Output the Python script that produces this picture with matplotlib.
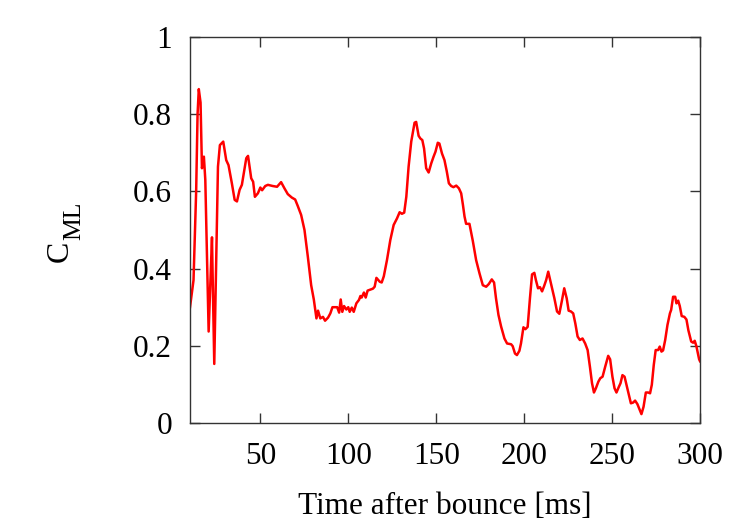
import matplotlib
matplotlib.use("Agg")
import matplotlib.pyplot as plt

plt.rcParams['font.family'] = ['Liberation Serif', 'DejaVu Serif']

time_ms = [10, 12, 13.5, 14.3, 15, 16, 16.8, 17.9, 18.7, 20.6, 22.5, 22.8, 23.8,
           25.9, 27, 28.9, 30.6, 31.9, 33.8, 35.4, 36.7, 38.2, 39.5, 42, 43, 44.8,
           45.9, 46.9, 48.6, 50, 51, 52.8, 54.3, 57, 59.5, 61.8, 63.7, 65.6, 67.9,
           69.8, 71.3, 73.2, 75.1, 77, 78.9, 80.4, 81.9, 82.8, 84.1, 85.6, 86.8,
           88.5, 89.8, 91, 93.7, 94.8, 95.7, 96.6, 97.6, 98.9, 100, 100.8, 102,
           103.1, 104.6, 106.1, 106.9, 107.6, 108.9, 109.9, 111, 114, 115, 116,
           117.9, 119, 120.2, 122, 123.9, 125.8, 127.7, 129.2, 130.5, 131.8, 133,
           134.3, 135.8, 137.7, 138.6, 140, 141, 142.1, 143.1, 144.3, 145.7, 147.2,
           148.5, 149.6, 150.9, 151.8, 153.3, 154.7, 156, 157.2, 158.5, 159.8,
           161.4, 162.9, 164.2, 165.2, 166.1, 167, 168.9, 170.8, 172.7, 174.6,
           176.5, 178.4, 179.9, 181.6, 182.9, 184, 185.4, 186.9, 188.8, 190.3,
           192.6, 193.5, 194.8, 195.9, 197.3, 198.2, 199.6, 200.7, 202, 203.3,
           204.5, 205.8, 206.7, 207.9, 209, 210.2, 211.3, 212.5, 213.7, 215.3,
           217.2, 218.7, 220, 221.4, 222.8, 224.2, 225.3, 226.6, 227.9, 229.1,
           230.4, 231.7, 233.2, 234.7, 236.1, 237.4, 238.6, 239.7, 240.8, 242.2,
           243.3, 244.6, 246.1, 247.8, 248.9, 250.2, 251.4, 252.5, 253.7, 254.8,
           255.9, 257.1, 258.2, 259.4, 260.7, 262, 263.1, 264.4, 265.4, 266.7,
           267.9, 269.2, 270.5, 271.6, 272.6, 273.7, 274.8, 276.2, 277.1, 278.1,
           279, 280.2, 281.5, 282.9, 283.6, 284.7, 285.9, 286.6, 287.6, 288.5,
           289.6, 291.1, 292.3, 293.4, 295, 296.1, 297, 298, 299.5, 300]
c_ml = [0.30, 0.37, 0.60, 0.80, 0.865, 0.83, 0.66, 0.69, 0.63, 0.237, 0.481,
        0.40, 0.153, 0.664, 0.72, 0.729, 0.681, 0.668, 0.621, 0.578, 0.574,
        0.604, 0.617, 0.686, 0.692, 0.634, 0.625, 0.586, 0.595, 0.61, 0.603,
        0.614, 0.617, 0.614, 0.612, 0.624, 0.608, 0.593, 0.584, 0.579, 0.562,
        0.539, 0.50, 0.431, 0.357, 0.32, 0.271, 0.291, 0.271, 0.275, 0.265,
        0.273, 0.284, 0.30, 0.30, 0.286, 0.32, 0.288, 0.303, 0.294, 0.30,
        0.288, 0.299, 0.288, 0.31, 0.319, 0.329, 0.325, 0.338, 0.325, 0.343,
        0.348, 0.353, 0.376, 0.366, 0.364, 0.38, 0.422, 0.474, 0.513, 0.530,
        0.546, 0.542, 0.545, 0.586, 0.664, 0.729, 0.778, 0.78, 0.744, 0.737,
        0.733, 0.711, 0.66, 0.649, 0.673, 0.69, 0.703, 0.726, 0.724, 0.698,
        0.681, 0.652, 0.621, 0.614, 0.611, 0.615, 0.608, 0.595, 0.565, 0.535,
        0.516, 0.516, 0.472, 0.422, 0.388, 0.357, 0.353, 0.36, 0.372, 0.364,
        0.323, 0.28, 0.25, 0.219, 0.206, 0.204, 0.199, 0.18, 0.176, 0.187,
        0.206, 0.248, 0.243, 0.249, 0.323, 0.385, 0.389, 0.37, 0.349, 0.352,
        0.341, 0.354, 0.37, 0.392, 0.361, 0.323, 0.289, 0.283, 0.315, 0.349,
        0.323, 0.291, 0.289, 0.284, 0.258, 0.224, 0.215, 0.219, 0.206, 0.189,
        0.146, 0.103, 0.079, 0.09, 0.107, 0.116, 0.12, 0.146, 0.174, 0.165,
        0.12, 0.09, 0.079, 0.092, 0.103, 0.124, 0.12, 0.099, 0.077, 0.051,
        0.053, 0.058, 0.049, 0.038, 0.023, 0.042, 0.079, 0.079, 0.077, 0.099,
        0.15, 0.189, 0.189, 0.198, 0.185, 0.188, 0.215, 0.254, 0.284, 0.293,
        0.327, 0.327, 0.31, 0.317, 0.303, 0.277, 0.275, 0.268, 0.24, 0.211,
        0.208, 0.213, 0.198, 0.165, 0.16]

x_ticks = [50, 100, 150, 200, 250, 300]
y_ticks = [0, 0.2, 0.4, 0.6, 0.8, 1]
y_tick_labels = ['0', '0.2', '0.4', '0.6', '0.8', '1']

W, H = 747, 523
fig = plt.figure(figsize=(W / 100, H / 100), dpi=100)
ax = fig.add_axes([190 / W, 100 / H, 510 / W, 386 / H])
ax.plot(time_ms, c_ml, color='#ff0000', lw=1.8)
ax.set_xlim(10, 300)
ax.set_ylim(0, 1)
ax.set_xticks(x_ticks)
ax.set_xticklabels([str(v) for v in x_ticks])
ax.set_yticks(y_ticks)
ax.set_yticklabels(y_tick_labels)
ax.tick_params(direction='in', length=7, width=1, top=True, right=True,
               labelsize=22.5, color='#333333')
ax.tick_params(axis='x', pad=14)
ax.tick_params(axis='y', pad=13)
for s in ax.spines.values():
    s.set_linewidth(1.0)
    s.set_color('#333333')
ax.set_xlabel('Time after bounce [ms]', fontsize=22.5, labelpad=15)

# y-axis label C_ML, drawn as main letter plus large subscript
fig.text(68 / W, 1 - 251 / H, 'C', fontsize=23, rotation=90,
         rotation_mode='anchor', ha='center', va='baseline')
fig.text(80 / W, 1 - 221 / H, 'ML', fontsize=18.5, rotation=90,
         rotation_mode='anchor', ha='center', va='baseline')

fig.savefig('out.png', dpi=100)
